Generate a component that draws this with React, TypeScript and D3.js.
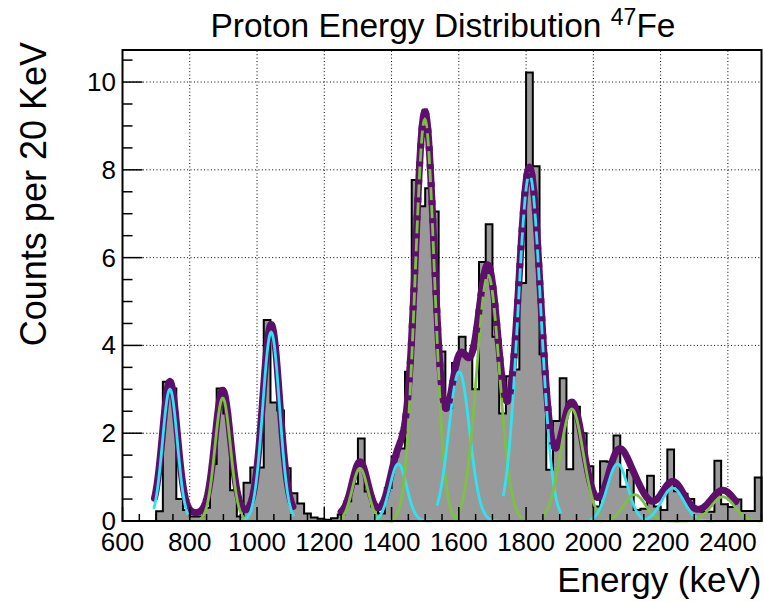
import React from 'react';
import * as d3 from 'd3';

// ---- data ----
const binStarts = d3.range(600, 2500, 20);
const counts = [
  0, 0, 0, 0, 0, 0.22, 3.17, 3.02, 0.5, 0.25,
  0.1, 0.1, 0.3, 1.3, 3.02, 2.45, 0.7, 0.1, 0.87, 1.22,
  1.22, 4.58, 2.7, 2.52, 1.2, 0.63, 0.4, 0.17, 0.08, 0.05,
  0.03, 0.06, 0.15, 0.45, 0.85, 1.88, 0.67, 0.33, 0.17, 0.75,
  1.47, 1.65, 3.4, 7.77, 7.17, 7.58, 7.05, 3.86, 2.57, 3.6,
  4.2, 3.8, 3.0, 5.9, 6.76, 4.2, 2.45, 3.3, 3.45, 5.42,
  10.22, 8.08, 3.8, 1.17, 2.28, 3.25, 1.18, 2.6, 2.0, 1.25,
  0.33, 1.36, 1.35, 1.95, 0.78, 1.16, 0.25, 0.28, 1.03, 0.33,
  0.25, 1.63, 0.68, 0.62, 0.5, 0.25, 0.21, 0.21, 1.37, 0.38,
  0.32, 0.49, 0.23, 0.23, 0.99,
];
const xTicks = [600, 800, 1000, 1200, 1400, 1600, 1800, 2000, 2200, 2400];
const yTicks = [0, 2, 4, 6, 8, 10];

// fit 1 (low energy): constant background + gaussians
const fit1Range = [695, 1108];
const fit1Background = 0.18;
const fit1Means = [741, 898, 1042];
const fit1Amps = [3.0, 2.8, 4.3];
const fit1Sigmas = [22, 23, 25];
const fit1Kinds = ['cyan', 'green', 'cyan'];
const fit1From = [693, 830, 960];
const fit1To = [795, 965, 1110];

// fit 2 (main region)
const fit2Range = [1250, 2425];
const fit2DashedRange = [1432, 1880];
const fit2Background = 0.15;
const fit2Means = [1306, 1420, 1499, 1601, 1687, 1810, 1936, 2072, 2123, 2236, 2385];
const fit2Amps = [1.2, 1.3, 9.15, 3.4, 5.6, 7.9, 2.55, 1.3, 0.6, 0.75, 0.55];
const fit2Sigmas = [23, 25, 29, 31, 34, 34, 34, 30, 32, 33, 35];
const fit2Kinds = ['green', 'cyan', 'green', 'cyan', 'green', 'cyan', 'green', 'cyan', 'green', 'cyan', 'green'];
const fit2From = [1243, 1350, 1395, 1535, 1590, 1732, 1850, 1990, 2020, 2150, 2250];
const fit2To = [1405, 1520, 1600, 1715, 1790, 1905, 2020, 2150, 2250, 2360, 2500];

// ---- layout ----
const W = 764, H = 601;
const L = 122.5, R = 761.5, T = 50, B = 521;
const xMin = 600, xMax = 2500, yMax = 10.73;

const COLORS: Record<string, string> = { cyan: '#2fe3f0', green: '#7cc242' };
const PURPLE = '#5e0f6b';
const FONT = '"Liberation Sans", Arial, Helvetica, sans-serif';

const gauss = (x: number, m: number, a: number, s: number) => a * Math.exp(-((x - m) * (x - m)) / (2 * s * s));

export default function App() {
  const x = d3.scaleLinear().domain([xMin, xMax]).range([L, R]);
  const y = d3.scaleLinear().domain([0, yMax]).range([B, T]);
  const line = d3.line<[number, number]>().x(d => x(d[0])).y(d => y(d[1])).curve(d3.curveLinear);

  const sample = (a: number, b: number, f: (e: number) => number) =>
    d3.range(a, b + 0.001, 2).map(e => [e, f(e)] as [number, number]);

  // histogram path
  let hp = `M${x(binStarts[0])},${y(0)}`;
  binStarts.forEach((s, i) => {
    hp += `L${x(s)},${y(counts[i])}L${x(s + 20)},${y(counts[i])}`;
  });
  hp += `L${x(binStarts[binStarts.length - 1] + 20)},${y(0)}Z`;

  const total1 = (e: number) => fit1Background + fit1Means.reduce((acc, m, i) => acc + gauss(e, m, fit1Amps[i], fit1Sigmas[i]), 0);
  const total2 = (e: number) => fit2Background + fit2Means.reduce((acc, m, i) => acc + gauss(e, m, fit2Amps[i], fit2Sigmas[i]), 0);

  const yMinor = d3.range(0, yMax, 0.5);
  const xMinor = d3.range(600, 2501, 50);

  return (
    <svg width={W} height={H} style={{ position: 'absolute', left: 0, top: 0, background: '#fff' }}>
      <rect x={0} y={0} width={W} height={H} fill="#fff" />
      {/* grid */}
      <g stroke="#000" strokeWidth={1} strokeDasharray="1 2.4">
        {xTicks.filter(t => t > xMin).map(t => (
          <line key={'gx' + t} x1={x(t)} x2={x(t)} y1={B} y2={T} />
        ))}
        {yTicks.filter(t => t > 0).map(t => (
          <line key={'gy' + t} x1={L} x2={R} y1={y(t)} y2={y(t)} />
        ))}
      </g>
      {/* histogram */}
      <path d={hp} fill="#999999" stroke="#000" strokeWidth={2} strokeLinejoin="miter" />
      {/* totals */}
      <path d={line(sample(fit1Range[0], fit1Range[1], total1)) || ''} fill="none" stroke={PURPLE} strokeWidth={7} strokeLinecap="round" strokeLinejoin="round" />
      <path d={line(sample(fit2Range[0], fit2Range[1], total2)) || ''} fill="none" stroke={PURPLE} strokeWidth={7} strokeLinecap="round" strokeLinejoin="round" />
      {/* components */}
      {fit1Means.map((m, i) => (
        <path key={'c1' + i} d={line(sample(fit1From[i], fit1To[i], e => gauss(e, m, fit1Amps[i], fit1Sigmas[i]))) || ''}
          fill="none" stroke={COLORS[fit1Kinds[i]]} strokeWidth={2.8} />
      ))}
      {fit2Means.map((m, i) => (
        <path key={'c2' + i} d={line(sample(fit2From[i], fit2To[i], e => gauss(e, m, fit2Amps[i], fit2Sigmas[i]))) || ''}
          fill="none" stroke={COLORS[fit2Kinds[i]]} strokeWidth={2.8} />
      ))}
      {/* dashed overlay of total */}
      <path d={line(sample(fit2DashedRange[0], fit2DashedRange[1], total2)) || ''} fill="none" stroke={PURPLE} strokeWidth={7} strokeDasharray="5 13" />
      {/* frame */}
      <rect x={L} y={T} width={R - L} height={B - T} fill="none" stroke="#000" strokeWidth={2} />
      {/* ticks */}
      <g stroke="#000" strokeWidth={1.5}>
        {yMinor.map(v => {
          const major = Math.abs(v / 2 - Math.round(v / 2)) < 1e-6;
          return <line key={'yt' + v} x1={L} x2={L + (major ? 20 : 10)} y1={y(v)} y2={y(v)} />;
        })}
        {xMinor.map(v => {
          const major = (v - 600) % 200 === 0;
          return <line key={'xt' + v} x1={x(v)} x2={x(v)} y1={B} y2={B - (major ? 14 : 7)} />;
        })}
      </g>
      {/* tick labels */}
      <g fontFamily={FONT} fontSize={26} fill="#000">
        {yTicks.map(t => (
          <text key={'yl' + t} x={116} y={y(t) + 9} textAnchor="end">{t}</text>
        ))}
        {xTicks.map(t => (
          <text key={'xl' + t} x={x(t)} y={551} textAnchor="middle">{t}</text>
        ))}
      </g>
      {/* axis titles */}
      <text x={R} y={592} textAnchor="end" fontFamily={FONT} fontSize={35}>Energy (keV)</text>
      <text transform={`translate(46,42) rotate(-90)`} textAnchor="end" fontFamily={FONT} fontSize={36}>Counts per 20 KeV</text>
      {/* title */}
      <text x={443} y={37} textAnchor="middle" fontFamily={FONT} fontSize={33.5}>
        Proton Energy Distribution <tspan fontSize={23} dy={-12}>47</tspan><tspan dy={12}>Fe</tspan>
      </text>
    </svg>
  );
}
